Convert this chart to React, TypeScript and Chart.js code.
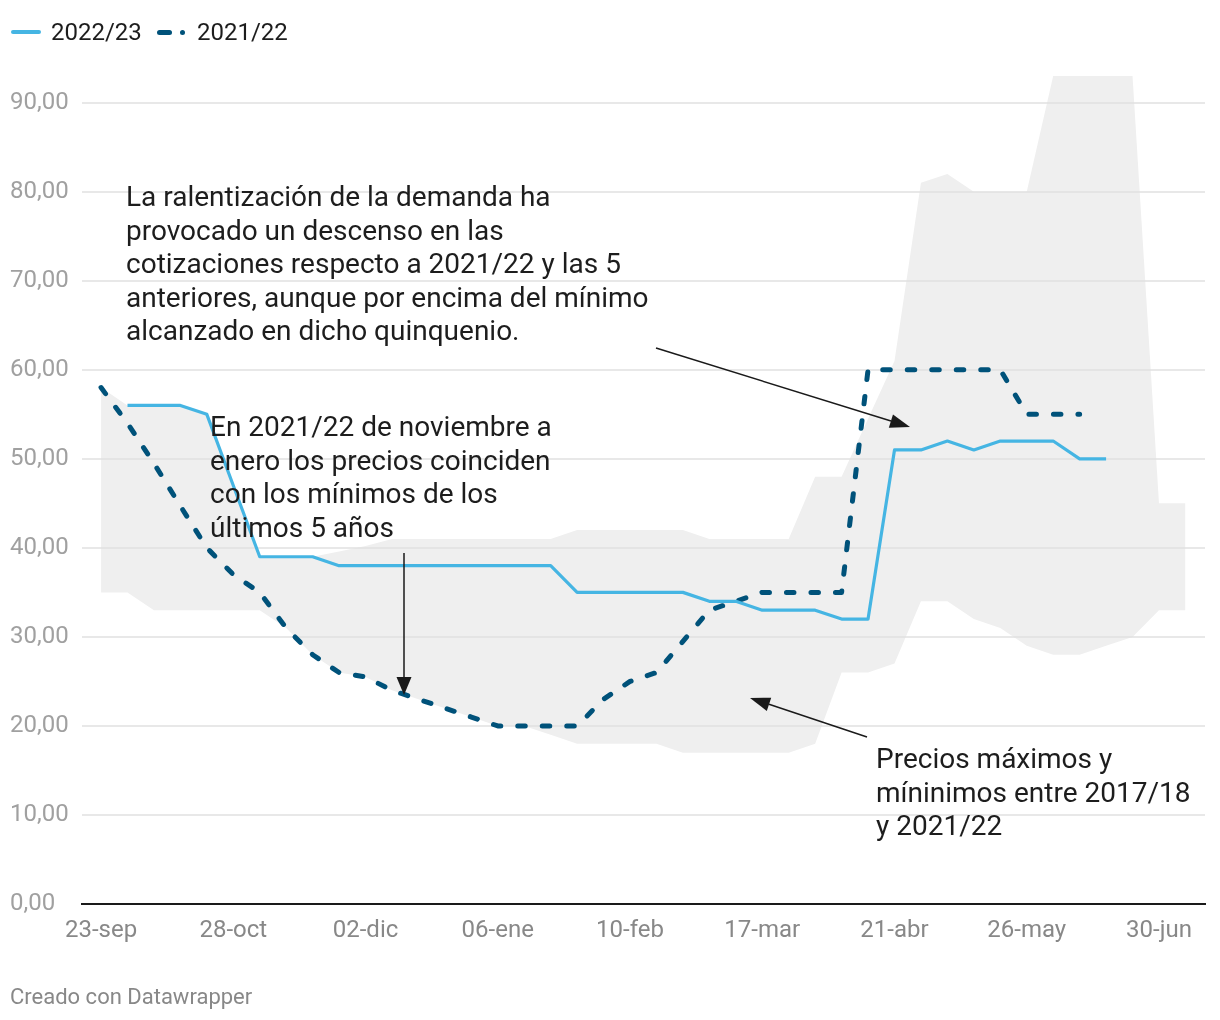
import React, { useEffect, useRef } from 'react';
import { Chart, registerables } from 'chart.js';

Chart.register(...registerables);

// ---- data (weekly, week 0 = 23-sep) ----
const tickWeeks = [0, 5, 10, 15, 20, 25, 30, 35, 40];
const tickLabels = ['23-sep', '28-oct', '02-dic', '06-ene', '10-feb', '17-mar', '21-abr', '26-may', '30-jun'];
const yTickValues = [0, 10, 20, 30, 40, 50, 60, 70, 80, 90];

// Max / min prices 2017/18 - 2021/22 (grey band), weeks 0..41
const bandMax = [58, 56, 56, 56, 55, 47, 39, 39, 39, 39.6, 40.2, 41, 41, 41, 41, 41, 41, 41, 42, 42, 42, 42, 42, 41, 41, 41, 41, 48, 48, 54.5, 61, 81, 82, 80, 80, 80, 93, 93, 93, 93, 45, 45];
const bandMin = [35, 35, 33, 33, 33, 33, 33, 31, 28, 26, 25.5, 24, 23, 22, 21, 20, 20, 19, 18, 18, 18, 18, 17, 17, 17, 17, 17, 18, 26, 26, 27, 34, 34, 32, 31, 29, 28, 28, 29, 30, 33, 33];

// 2022/23, weeks 1..38
const firstWeek2223 = 1;
const price2223 = [56, 56, 56, 55, 47, 39, 39, 39, 38, 38, 38, 38, 38, 38, 38, 38, 38, 35, 35, 35, 35, 35, 34, 34, 33, 33, 33, 32, 32, 51, 51, 52, 51, 52, 52, 52, 50, 50];

// 2021/22, weeks 0..37
const firstWeek2122 = 0;
const price2122 = [58, 54, 49.5, 44.7, 40, 37, 35, 31, 28, 26, 25.5, 24, 23, 22, 21, 20, 20, 20, 20, 23, 25, 26, 29.5, 33, 34, 35, 35, 35, 35, 60, 60, 60, 60, 60, 60, 55, 55, 55];

const seriesLabels = ['2022/23', '2021/22'];

const note1 = [
  'La ralentización de la demanda ha',
  'provocado un descenso en las',
  'cotizaciones respecto a 2021/22 y las 5',
  'anteriores, aunque por encima del mínimo',
  'alcanzado en dicho quinquenio.',
];
const note2 = [
  'En 2021/22 de noviembre a',
  'enero los precios coinciden',
  'con los mínimos de los',
  'últimos 5 años',
];
const note3 = ['Precios máximos y', 'míninimos entre 2017/18', 'y 2021/22'];

const LIGHT = '#45b5e3';
const DARK = '#00527a';
const BAND = '#efefef';
const FONT = 'Roboto, "Noto Sans", sans-serif';

const toXY = (arr: number[], start: number) => arr.map((v, i) => ({ x: i + start, y: v }));

const gridOverBand = {
  id: 'gridOverBand',
  afterDatasetDraw(chart: any, args: any) {
    if (args.index !== 1) return;
    const { ctx, chartArea, scales } = chart;
    const y = scales.y;
    ctx.save();
    ctx.strokeStyle = '#e1e1e1';
    ctx.lineWidth = 1.5;
    y.ticks.forEach((t: any) => {
      if (t.value === 0) return;
      const py = Math.round(y.getPixelForValue(t.value));
      ctx.beginPath();
      ctx.moveTo(chartArea.left, py);
      ctx.lineTo(chartArea.right, py);
      ctx.stroke();
    });
    ctx.restore();
  },
};

function ChartCanvas() {
  const ref = useRef<HTMLCanvasElement | null>(null);
  useEffect(() => {
    if (!ref.current) return;
    const chart = new Chart(ref.current, {
      type: 'line',
      data: {
        datasets: [
          {
            label: 'max',
            data: toXY(bandMax, 0),
            borderWidth: 0,
            pointRadius: 0,
            backgroundColor: BAND,
            fill: '+1',
            order: 11,
          },
          {
            label: 'min',
            data: toXY(bandMin, 0),
            borderWidth: 0,
            pointRadius: 0,
            fill: false,
            order: 10,
          },
          {
            label: seriesLabels[1],
            data: toXY(price2122, firstWeek2122),
            borderColor: DARK,
            borderWidth: 5,
            borderDash: [7.5, 17],
            borderCapStyle: 'round',
            borderJoinStyle: 'round',
            pointRadius: 0,
            fill: false,
            tension: 0,
            order: 2,
          },
          {
            label: seriesLabels[0],
            data: toXY(price2223, firstWeek2223),
            borderColor: LIGHT,
            borderWidth: 3.2,
            borderJoinStyle: 'round',
            borderCapStyle: 'butt',
            pointRadius: 0,
            fill: false,
            tension: 0,
            order: 1,
          },
        ],
      } as any,
      options: {
        animation: false,
        responsive: false,
        maintainAspectRatio: false,
        layout: { padding: { left: 10, right: 15, top: 76, bottom: 0 } },
        plugins: { legend: { display: false }, tooltip: { enabled: false } },
        scales: {
          x: {
            type: 'linear',
            min: -0.72,
            max: 41.74,
            grid: { display: false, drawTicks: false },
            border: { display: true, color: '#1a1a1a', width: 2 },
            afterBuildTicks: (scale: any) => {
              scale.ticks = tickWeeks.map((v) => ({ value: v }));
            },
            afterFit: (scale: any) => {
              scale.height = 116;
            },
            ticks: {
              autoSkip: false,
              maxRotation: 0,
              padding: 13,
              color: '#888888',
              font: { family: FONT, size: 24 },
              callback: (v: any) => tickLabels[tickWeeks.indexOf(Number(v))] ?? '',
            },
          },
          y: {
            type: 'linear',
            min: 0,
            max: 93,
            grid: { display: false, drawTicks: false },
            border: { display: false },
            afterBuildTicks: (scale: any) => {
              scale.ticks = yTickValues.map((v) => ({ value: v }));
            },
            afterFit: (scale: any) => {
              scale.width = 72;
            },
            ticks: {
              crossAlign: 'far',
              color: '#a0a0a0',
              font: { family: FONT, size: 24 },
              callback: (v: any) => Number(v).toFixed(2).replace('.', ','),
            },
          },
        },
      } as any,
      plugins: [gridOverBand],
    });
    return () => chart.destroy();
  }, []);
  return <canvas ref={ref} width={1220} height={1020} style={{ position: 'absolute', left: 0, top: 0, width: 1220, height: 1020 }} />;
}

const noteStyle: React.CSSProperties = {
  position: 'absolute',
  fontFamily: FONT,
  fontSize: 28,
  lineHeight: '33.5px',
  color: '#1d1d1d',
  whiteSpace: 'nowrap',
};

function Note({ lines, left, top }: { lines: string[]; left: number; top: number }) {
  return (
    <div style={{ ...noteStyle, left, top }}>
      {lines.map((l, i) => (
        <div key={i}>{l}</div>
      ))}
    </div>
  );
}

export default function App() {
  return (
    <div style={{ position: 'absolute', left: 0, top: 0, width: 1220, height: 1020, background: '#fff', overflow: 'hidden' }}>
      <ChartCanvas />
      {/* legend */}
      <div style={{ position: 'absolute', left: 11, top: 30, width: 30, height: 4, borderRadius: 2, background: LIGHT }} />
      <div style={{ position: 'absolute', left: 51, top: 17, fontFamily: FONT, fontSize: 24, lineHeight: '30px', color: '#1d1d1d' }}>{seriesLabels[0]}</div>
      <div style={{ position: 'absolute', left: 157, top: 29.5, width: 15, height: 5, borderRadius: 3, background: DARK }} />
      <div style={{ position: 'absolute', left: 180, top: 29.5, width: 5, height: 5, borderRadius: 3, background: DARK }} />
      <div style={{ position: 'absolute', left: 197, top: 17, fontFamily: FONT, fontSize: 24, lineHeight: '30px', color: '#1d1d1d' }}>{seriesLabels[1]}</div>

      <Note lines={note1} left={126} top={180} />
      <Note lines={note2} left={210} top={410} />
      <Note lines={note3} left={876} top={742} />

      <svg width={1220} height={1020} style={{ position: 'absolute', left: 0, top: 0, pointerEvents: 'none' }}>
        <g stroke="#1a1a1a" strokeWidth={1.5} fill="#1a1a1a">
          <line x1={656} y1={348} x2={891} y2={421} />
          <polygon points="910,427 888.8,427.7 893,414.4" stroke="none" />
          <line x1={404} y1={553} x2={404} y2={678} />
          <polygon points="404,695 396.5,677 411.5,677" stroke="none" />
          <line x1={867} y1={737} x2={769} y2={704.3} />
          <polygon points="750,698 771.2,697.7 766.8,711" stroke="none" />
        </g>
      </svg>

      <div style={{ position: 'absolute', left: 10, top: 983, fontFamily: FONT, fontSize: 22, lineHeight: '28px', color: '#888888' }}>Creado con Datawrapper</div>
    </div>
  );
}
